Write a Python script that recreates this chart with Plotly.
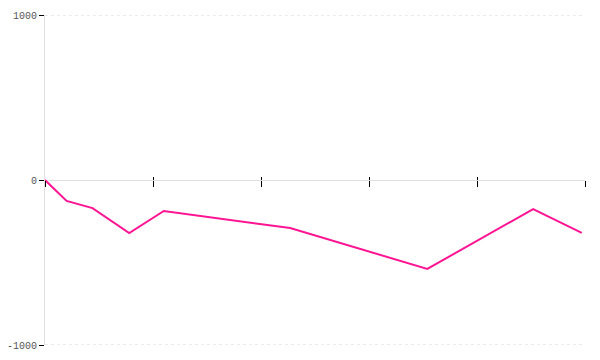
import plotly.graph_objects as go

x_vals = [0, 0.2, 0.44, 0.78, 1.10, 2.27, 3.54, 4.52, 4.97]
y_vals = [0, -127, -170, -321, -188, -291, -539, -176, -321]
y_ticks = [-1000, 0, 1000]
y_ticktext = ["-1000", "0", "1000"]
x_ticks = [0, 1, 2, 3, 4, 5]

fig = go.Figure()
fig.add_trace(go.Scatter(x=x_vals, y=y_vals, mode="lines",
                         line=dict(color="#ff1493", width=2), showlegend=False))
# invisible trace for second x axis
fig.add_trace(go.Scatter(x=[x_vals[0]], y=[y_vals[0]], xaxis="x2", mode="lines",
                         line=dict(color="rgba(0,0,0,0)"), showlegend=False, hoverinfo="skip"))

# dotted horizontal grid lines at the non-zero y ticks
for v in y_ticks:
    if v != 0:
        fig.add_shape(type="line", xref="paper", x0=0, x1=1, yref="y", y0=v, y1=v,
                      line=dict(color="#d8d8d8", width=1, dash="dot"), layer="below")

fig.update_layout(
    width=600, height=360,
    margin=dict(l=45, r=15, t=15, b=15, autoexpand=False),
    paper_bgcolor="white", plot_bgcolor="white",
    font=dict(family="Liberation Mono", size=10, color="#555"),
    xaxis=dict(range=[0, 5], tickvals=x_ticks, showticklabels=False,
               ticks="outside", ticklen=6, tickcolor="black", tickwidth=1,
               showgrid=False, zeroline=False, showline=False, automargin=False,
               anchor="free", position=0.5),
    xaxis2=dict(range=[0, 5], tickvals=x_ticks, showticklabels=False,
                ticks="inside", ticklen=3, tickcolor="black", tickwidth=1,
                showgrid=False, zeroline=False, showline=False, automargin=False,
                overlaying="x", anchor="free", position=0.5),
    yaxis=dict(range=[-1000, 1000], tickvals=y_ticks, ticktext=y_ticktext,
               ticks="outside", ticklen=5, tickcolor="black", tickwidth=1,
               showgrid=False,
               zeroline=True, zerolinecolor="#e0e0e0", zerolinewidth=1,
               showline=True, linecolor="#e0e0e0", linewidth=1, automargin=False),
)

fig.write_html("out.html")
